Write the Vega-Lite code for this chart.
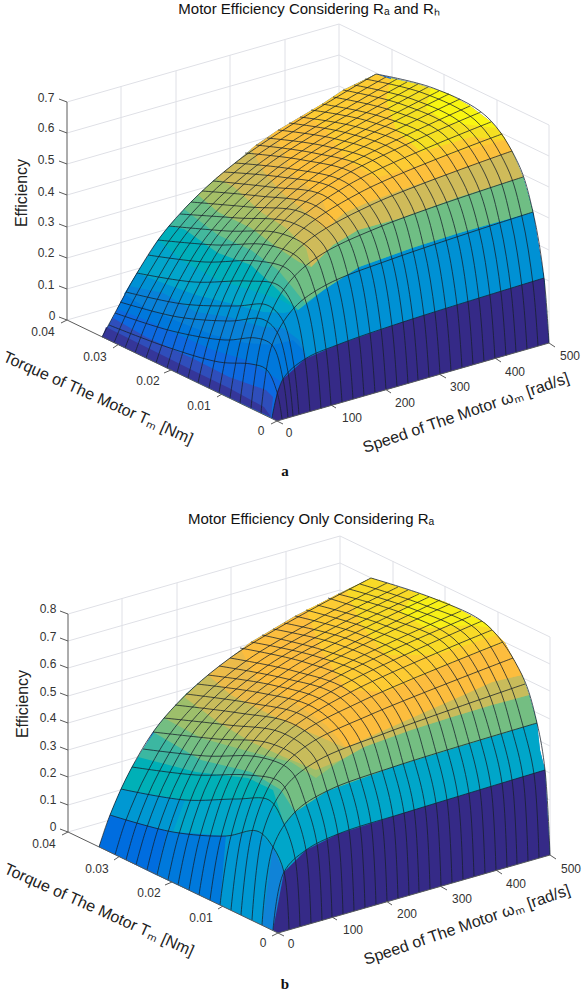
{"$schema":"https://vega.github.io/schema/vega-lite/v6.json","padding":{"left":0,"top":2,"right":0,"bottom":0},"spacing":13,"background":"white","resolve":{"scale":{"color":"independent"}},"config":{"view":{"stroke":null},"title":{"font":"Liberation Sans","fontSize":15,"fontWeight":"normal","color":"#111111","anchor":"middle","offset":2}},"vconcat":[
{"title":{"text":"Motor Efficiency Considering Rₐ and Rₕ","dx":17},"width":582,"height":480,"encoding":{"x":{"field":"u","type":"quantitative","scale":{"domain":[0,582],"nice":false,"zero":false},"axis":null},"y":{"field":"v","type":"quantitative","scale":{"domain":[499,19],"nice":false,"zero":false},"axis":null}},"layer":[
{"mark":{"type":"line","stroke":"#dfe0e6","strokeWidth":1,"clip":false},"encoding":{"detail":{"field":"g","type":"nominal"},"order":{"value":null}},"data":{"values":[
{"g":0,"u":66,"v":320},{"g":0,"u":338,"v":242},{"g":0,"u":548,"v":343},{"g":1,"u":66,"v":289},{"g":1,"u":338,"v":211},{"g":1,"u":548,"v":312},{"g":2,"u":66,"v":258},{"g":2,"u":338,"v":180},{"g":2,"u":548,"v":281},{"g":3,"u":66,"v":227},{"g":3,"u":338,"v":149},{"g":3,"u":548,"v":250},{"g":4,"u":66,"v":195},{"g":4,"u":338,"v":117},{"g":4,"u":548,"v":218},{"g":5,"u":66,"v":164},{"g":5,"u":338,"v":86},{"g":5,"u":548,"v":187},{"g":6,"u":66,"v":133},{"g":6,"u":338,"v":55},{"g":6,"u":548,"v":156},{"g":7,"u":66,"v":102},{"g":7,"u":338,"v":24},{"g":7,"u":548,"v":125},
{"g":10,"u":120,"v":304},{"g":10,"u":120,"v":86},{"g":11,"u":175,"v":289},{"g":11,"u":175,"v":71},{"g":12,"u":229,"v":273},{"g":12,"u":229,"v":55},{"g":13,"u":284,"v":258},{"g":13,"u":284,"v":40},{"g":14,"u":338,"v":242},{"g":14,"u":338,"v":24},{"g":15,"u":391,"v":267},{"g":15,"u":391,"v":49},{"g":16,"u":443,"v":292},{"g":16,"u":443,"v":74},{"g":17,"u":496,"v":318},{"g":17,"u":496,"v":100},{"g":18,"u":548,"v":343},{"g":18,"u":548,"v":125}]}},
{"mark":{"type":"line","filled":true,"strokeWidth":0,"clip":false},"encoding":{"detail":{"field":"g","type":"nominal"},"order":{"value":null},"color":{"field":"e","type":"quantitative","legend":null,"scale":{"domain":[0,0.059,0.118,0.177,0.236,0.295,0.354,0.413,0.472,0.531,0.59],"range":["#352a87","#0f68e0","#1484d6","#0ba4cc","#2eb5a8","#85bf7a","#d5ba5a","#fbbb40","#fdcc32","#f5e022","#f9fb0e"]}}},"data":{"values":[
{"g":0,"e":0.06,"u":276,"v":421},{"g":0,"e":0.06,"u":548,"v":343},{"g":0,"e":0.06,"u":543,"v":278},{"g":0,"e":0.06,"u":532,"v":212},{"g":0,"e":0.06,"u":522,"v":177},{"g":0,"e":0.06,"u":511,"v":151},{"g":0,"e":0.06,"u":501,"v":134},{"g":0,"e":0.06,"u":490,"v":122},{"g":0,"e":0.06,"u":469,"v":106},{"g":0,"e":0.06,"u":448,"v":94},{"g":0,"e":0.06,"u":417,"v":84},{"g":0,"e":0.06,"u":375,"v":74},{"g":0,"e":0.06,"u":342,"v":90},{"g":0,"e":0.06,"u":321,"v":104},{"g":0,"e":0.06,"u":299,"v":117},{"g":0,"e":0.06,"u":277,"v":130},{"g":0,"e":0.06,"u":255,"v":145},{"g":0,"e":0.06,"u":234,"v":163},{"g":0,"e":0.06,"u":212,"v":181},{"g":0,"e":0.06,"u":190,"v":202},{"g":0,"e":0.06,"u":168,"v":226},{"g":0,"e":0.06,"u":157,"v":240},{"g":0,"e":0.06,"u":136,"v":273},{"g":0,"e":0.06,"u":125,"v":292},{"g":0,"e":0.06,"u":114,"v":313},{"g":0,"e":0.06,"u":101,"v":337},
{"g":1,"e":0.09,"u":116,"v":309},{"g":1,"e":0.09,"u":145,"v":320},{"g":1,"e":0.09,"u":178,"v":335},{"g":1,"e":0.09,"u":212,"v":350},{"g":1,"e":0.09,"u":245,"v":360},{"g":1,"e":0.09,"u":270,"v":375},{"g":1,"e":0.09,"u":285,"v":385},{"g":1,"e":0.09,"u":544,"v":290},{"g":1,"e":0.09,"u":543,"v":278},{"g":1,"e":0.09,"u":532,"v":212},{"g":1,"e":0.09,"u":136,"v":273},{"g":1,"e":0.09,"u":125,"v":292},
{"g":2,"e":0.11,"u":123,"v":294},{"g":2,"e":0.11,"u":145,"v":308},{"g":2,"e":0.11,"u":178,"v":322},{"g":2,"e":0.11,"u":212,"v":335},{"g":2,"e":0.11,"u":245,"v":343},{"g":2,"e":0.11,"u":272,"v":345},{"g":2,"e":0.11,"u":292,"v":340},{"g":2,"e":0.11,"u":302,"v":350},{"g":2,"e":0.11,"u":305,"v":362},{"g":2,"e":0.11,"u":544,"v":288},{"g":2,"e":0.11,"u":543,"v":278},{"g":2,"e":0.11,"u":532,"v":212},{"g":2,"e":0.11,"u":157,"v":240},{"g":2,"e":0.11,"u":136,"v":273},
{"g":3,"e":0.14,"u":128,"v":286},{"g":3,"e":0.14,"u":162,"v":293},{"g":3,"e":0.14,"u":195,"v":312},{"g":3,"e":0.14,"u":228,"v":317},{"g":3,"e":0.14,"u":262,"v":327},{"g":3,"e":0.14,"u":282,"v":328},{"g":3,"e":0.14,"u":298,"v":340},{"g":3,"e":0.14,"u":310,"v":365},{"g":3,"e":0.14,"u":544,"v":286},{"g":3,"e":0.14,"u":543,"v":278},{"g":3,"e":0.14,"u":532,"v":212},{"g":3,"e":0.14,"u":168,"v":226},{"g":3,"e":0.14,"u":136,"v":273},
{"g":4,"e":0.18,"u":136,"v":273},{"g":4,"e":0.18,"u":162,"v":283},{"g":4,"e":0.18,"u":195,"v":295},{"g":4,"e":0.18,"u":228,"v":303},{"g":4,"e":0.18,"u":262,"v":312},{"g":4,"e":0.18,"u":283,"v":313},{"g":4,"e":0.18,"u":297,"v":310},{"g":4,"e":0.18,"u":324,"v":289},{"g":4,"e":0.18,"u":358,"v":267},{"g":4,"e":0.18,"u":411,"v":248},{"g":4,"e":0.18,"u":458,"v":233},{"g":4,"e":0.18,"u":532,"v":212},{"g":4,"e":0.18,"u":522,"v":177},{"g":4,"e":0.18,"u":190,"v":202},{"g":4,"e":0.18,"u":157,"v":240},
{"g":5,"e":0.21,"u":157,"v":240},{"g":5,"e":0.21,"u":183,"v":262},{"g":5,"e":0.21,"u":217,"v":280},{"g":5,"e":0.21,"u":250,"v":290},{"g":5,"e":0.21,"u":280,"v":300},{"g":5,"e":0.21,"u":297,"v":310},{"g":5,"e":0.21,"u":324,"v":289},{"g":5,"e":0.21,"u":358,"v":267},{"g":5,"e":0.21,"u":411,"v":248},{"g":5,"e":0.21,"u":458,"v":233},{"g":5,"e":0.21,"u":532,"v":212},{"g":5,"e":0.21,"u":522,"v":177},{"g":5,"e":0.21,"u":190,"v":202},{"g":5,"e":0.21,"u":168,"v":226},
{"g":6,"e":0.25,"u":168,"v":226},{"g":6,"e":0.25,"u":183,"v":229},{"g":6,"e":0.25,"u":217,"v":253},{"g":6,"e":0.25,"u":250,"v":265},{"g":6,"e":0.25,"u":277,"v":290},{"g":6,"e":0.25,"u":297,"v":310},{"g":6,"e":0.25,"u":324,"v":289},{"g":6,"e":0.25,"u":358,"v":267},{"g":6,"e":0.25,"u":411,"v":248},{"g":6,"e":0.25,"u":458,"v":233},{"g":6,"e":0.25,"u":532,"v":212},{"g":6,"e":0.25,"u":522,"v":177},{"g":6,"e":0.25,"u":212,"v":181},{"g":6,"e":0.25,"u":190,"v":202},
{"g":7,"e":0.28,"u":183,"v":209},{"g":7,"e":0.28,"u":217,"v":235},{"g":7,"e":0.28,"u":250,"v":250},{"g":7,"e":0.28,"u":277,"v":270},{"g":7,"e":0.28,"u":292,"v":288},{"g":7,"e":0.28,"u":304,"v":303},{"g":7,"e":0.28,"u":324,"v":289},{"g":7,"e":0.28,"u":358,"v":267},{"g":7,"e":0.28,"u":411,"v":248},{"g":7,"e":0.28,"u":458,"v":233},{"g":7,"e":0.28,"u":532,"v":212},{"g":7,"e":0.28,"u":522,"v":177},{"g":7,"e":0.28,"u":511,"v":151},{"g":7,"e":0.28,"u":212,"v":181},{"g":7,"e":0.28,"u":190,"v":202},
{"g":8,"e":0.32,"u":197,"v":195},{"g":8,"e":0.32,"u":217,"v":212},{"g":8,"e":0.32,"u":250,"v":228},{"g":8,"e":0.32,"u":277,"v":248},{"g":8,"e":0.32,"u":298,"v":262},{"g":8,"e":0.32,"u":310,"v":267},{"g":8,"e":0.32,"u":332,"v":245},{"g":8,"e":0.32,"u":357,"v":230},{"g":8,"e":0.32,"u":400,"v":218},{"g":8,"e":0.32,"u":458,"v":197},{"g":8,"e":0.32,"u":522,"v":177},{"g":8,"e":0.32,"u":511,"v":151},{"g":8,"e":0.32,"u":234,"v":163},{"g":8,"e":0.32,"u":212,"v":181},
{"g":9,"e":0.35,"u":215,"v":178},{"g":9,"e":0.35,"u":233,"v":187},{"g":9,"e":0.35,"u":260,"v":212},{"g":9,"e":0.35,"u":285,"v":228},{"g":9,"e":0.35,"u":305,"v":248},{"g":9,"e":0.35,"u":310,"v":267},{"g":9,"e":0.35,"u":332,"v":245},{"g":9,"e":0.35,"u":357,"v":230},{"g":9,"e":0.35,"u":400,"v":218},{"g":9,"e":0.35,"u":458,"v":197},{"g":9,"e":0.35,"u":522,"v":177},{"g":9,"e":0.35,"u":511,"v":151},{"g":9,"e":0.35,"u":501,"v":134},{"g":9,"e":0.35,"u":255,"v":145},{"g":9,"e":0.35,"u":234,"v":163},
{"g":10,"e":0.39,"u":250,"v":149},{"g":10,"e":0.39,"u":263,"v":172},{"g":10,"e":0.39,"u":280,"v":192},{"g":10,"e":0.39,"u":305,"v":212},{"g":10,"e":0.39,"u":325,"v":230},{"g":10,"e":0.39,"u":343,"v":213},{"g":10,"e":0.39,"u":363,"v":204},{"g":10,"e":0.39,"u":400,"v":190},{"g":10,"e":0.39,"u":458,"v":170},{"g":10,"e":0.39,"u":511,"v":151},{"g":10,"e":0.39,"u":501,"v":134},{"g":10,"e":0.39,"u":277,"v":130},{"g":10,"e":0.39,"u":255,"v":145},
{"g":11,"e":0.43,"u":270,"v":135},{"g":11,"e":0.43,"u":282,"v":150},{"g":11,"e":0.43,"u":290,"v":173},{"g":11,"e":0.43,"u":320,"v":197},{"g":11,"e":0.43,"u":330,"v":223},{"g":11,"e":0.43,"u":343,"v":213},{"g":11,"e":0.43,"u":363,"v":204},{"g":11,"e":0.43,"u":400,"v":190},{"g":11,"e":0.43,"u":458,"v":170},{"g":11,"e":0.43,"u":511,"v":151},{"g":11,"e":0.43,"u":501,"v":134},{"g":11,"e":0.43,"u":490,"v":122},{"g":11,"e":0.43,"u":321,"v":104},{"g":11,"e":0.43,"u":299,"v":117},{"g":11,"e":0.43,"u":277,"v":130},
{"g":12,"e":0.47,"u":305,"v":114},{"g":12,"e":0.47,"u":325,"v":130},{"g":12,"e":0.47,"u":345,"v":160},{"g":12,"e":0.47,"u":375,"v":178},{"g":12,"e":0.47,"u":420,"v":165},{"g":12,"e":0.47,"u":458,"v":152},{"g":12,"e":0.47,"u":505,"v":140},{"g":12,"e":0.47,"u":501,"v":134},{"g":12,"e":0.47,"u":490,"v":122},{"g":12,"e":0.47,"u":469,"v":106},{"g":12,"e":0.47,"u":375,"v":74},{"g":12,"e":0.47,"u":342,"v":90},{"g":12,"e":0.47,"u":321,"v":104},
{"g":13,"e":0.53,"u":390,"v":78},{"g":13,"e":0.53,"u":385,"v":100},{"g":13,"e":0.53,"u":395,"v":130},{"g":13,"e":0.53,"u":420,"v":152},{"g":13,"e":0.53,"u":470,"v":137},{"g":13,"e":0.53,"u":505,"v":140},{"g":13,"e":0.53,"u":501,"v":134},{"g":13,"e":0.53,"u":490,"v":122},{"g":13,"e":0.53,"u":469,"v":106},{"g":13,"e":0.53,"u":448,"v":94},{"g":13,"e":0.53,"u":417,"v":84},
{"g":14,"e":0.58,"u":430,"v":88},{"g":14,"e":0.58,"u":425,"v":108},{"g":14,"e":0.58,"u":445,"v":122},{"g":14,"e":0.58,"u":496,"v":128},{"g":14,"e":0.58,"u":490,"v":122},{"g":14,"e":0.58,"u":469,"v":106},{"g":14,"e":0.58,"u":448,"v":94},
{"g":15,"e":0.035,"u":112,"v":318},{"g":15,"e":0.035,"u":145,"v":337},{"g":15,"e":0.035,"u":195,"v":360},{"g":15,"e":0.035,"u":228,"v":377},{"g":15,"e":0.035,"u":265,"v":390},{"g":15,"e":0.035,"u":272,"v":397},{"g":15,"e":0.035,"u":270,"v":417},{"g":15,"e":0.035,"u":101,"v":337},
{"g":16,"e":0.012,"u":105,"v":327},{"g":16,"e":0.012,"u":145,"v":347},{"g":16,"e":0.012,"u":195,"v":372},{"g":16,"e":0.012,"u":228,"v":388},{"g":16,"e":0.012,"u":263,"v":407},{"g":16,"e":0.012,"u":270,"v":417},{"g":16,"e":0.012,"u":101,"v":337},
{"g":17,"e":0,"u":276,"v":421},{"g":17,"e":0,"u":548,"v":343},{"g":17,"e":0,"u":543,"v":278},{"g":17,"e":0,"u":402,"v":322},{"g":17,"e":0,"u":336,"v":345},{"g":17,"e":0,"u":304,"v":359},{"g":17,"e":0,"u":282,"v":379},{"g":17,"e":0,"u":276,"v":392},{"g":17,"e":0,"u":271,"v":418}]}},
{"mark":{"type":"line","interpolate":"catmull-rom","stroke":"#16202a","strokeWidth":0.9,"strokeOpacity":0.85,"clip":false},"encoding":{"detail":{"field":"g","type":"nominal"},"order":{"value":null}},"data":{"values":[
{"g":1,"u":271,"v":418},{"g":1,"u":282,"v":379},{"g":1,"u":304,"v":359},{"g":1,"u":336,"v":345},{"g":1,"u":402,"v":322},{"g":1,"u":543,"v":278},
{"g":2,"u":260,"v":413},{"g":2,"u":271,"v":345},{"g":2,"u":293,"v":308},{"g":2,"u":325,"v":285},{"g":2,"u":391,"v":259},{"g":2,"u":532,"v":212},
{"g":3,"u":250,"v":408},{"g":3,"u":261,"v":338},{"g":3,"u":283,"v":289},{"g":3,"u":315,"v":258},{"g":3,"u":381,"v":226},{"g":3,"u":522,"v":177},
{"g":4,"u":239,"v":403},{"g":4,"u":250,"v":337},{"g":4,"u":272,"v":281},{"g":4,"u":304,"v":243},{"g":4,"u":370,"v":205},{"g":4,"u":511,"v":151},
{"g":5,"u":229,"v":398},{"g":5,"u":240,"v":339},{"g":5,"u":262,"v":280},{"g":5,"u":294,"v":236},{"g":5,"u":360,"v":192},{"g":5,"u":501,"v":134},
{"g":6,"u":218,"v":393},{"g":6,"u":229,"v":339},{"g":6,"u":251,"v":280},{"g":6,"u":283,"v":233},{"g":6,"u":349,"v":184},{"g":6,"u":490,"v":122},
{"g":7,"u":208,"v":388},{"g":7,"u":219,"v":339},{"g":7,"u":241,"v":281},{"g":7,"u":273,"v":231},{"g":7,"u":339,"v":178},{"g":7,"u":480,"v":112},
{"g":8,"u":197,"v":383},{"g":8,"u":208,"v":339},{"g":8,"u":230,"v":282},{"g":8,"u":262,"v":232},{"g":8,"u":328,"v":176},{"g":8,"u":469,"v":106},
{"g":9,"u":187,"v":378},{"g":9,"u":198,"v":337},{"g":9,"u":220,"v":283},{"g":9,"u":252,"v":232},{"g":9,"u":318,"v":173},{"g":9,"u":459,"v":99},
{"g":10,"u":176,"v":373},{"g":10,"u":187,"v":336},{"g":10,"u":209,"v":283},{"g":10,"u":241,"v":232},{"g":10,"u":307,"v":171},{"g":10,"u":448,"v":94},
{"g":11,"u":166,"v":368},{"g":11,"u":177,"v":333},{"g":11,"u":199,"v":283},{"g":11,"u":231,"v":232},{"g":11,"u":297,"v":170},{"g":11,"u":438,"v":91},
{"g":12,"u":155,"v":363},{"g":12,"u":166,"v":331},{"g":12,"u":188,"v":282},{"g":12,"u":220,"v":231},{"g":12,"u":286,"v":169},{"g":12,"u":427,"v":87},
{"g":13,"u":145,"v":358},{"g":13,"u":156,"v":328},{"g":13,"u":178,"v":281},{"g":13,"u":210,"v":231},{"g":13,"u":276,"v":168},{"g":13,"u":417,"v":84},
{"g":14,"u":134,"v":353},{"g":14,"u":145,"v":324},{"g":14,"u":167,"v":279},{"g":14,"u":199,"v":230},{"g":14,"u":265,"v":166},{"g":14,"u":406,"v":82},
{"g":15,"u":124,"v":348},{"g":15,"u":135,"v":321},{"g":15,"u":157,"v":278},{"g":15,"u":189,"v":229},{"g":15,"u":255,"v":166},{"g":15,"u":396,"v":79},
{"g":16,"u":113,"v":343},{"g":16,"u":124,"v":317},{"g":16,"u":146,"v":276},{"g":16,"u":178,"v":228},{"g":16,"u":244,"v":164},{"g":16,"u":385,"v":77},
{"g":17,"u":101,"v":337},{"g":17,"u":114,"v":313},{"g":17,"u":136,"v":273},{"g":17,"u":168,"v":226},{"g":17,"u":234,"v":163},{"g":17,"u":375,"v":74},
{"g":21,"u":281,"v":419},{"g":21,"u":276,"v":392},{"g":21,"u":265,"v":369},{"g":21,"u":250,"v":364},{"g":21,"u":218,"v":362},{"g":21,"u":166,"v":347},{"g":21,"u":108,"v":325},
{"g":22,"u":287,"v":418},{"g":22,"u":282,"v":379},{"g":22,"u":271,"v":345},{"g":22,"u":255,"v":338},{"g":22,"u":224,"v":340},{"g":22,"u":171,"v":331},{"g":22,"u":114,"v":313},
{"g":23,"u":292,"v":416},{"g":23,"u":287,"v":372},{"g":23,"u":276,"v":332},{"g":23,"u":261,"v":319},{"g":23,"u":229,"v":321},{"g":23,"u":177,"v":317},{"g":23,"u":119,"v":302},
{"g":24,"u":298,"v":415},{"g":24,"u":293,"v":366},{"g":24,"u":282,"v":321},{"g":24,"u":266,"v":305},{"g":24,"u":235,"v":306},{"g":24,"u":182,"v":304},{"g":24,"u":125,"v":292},
{"g":25,"u":309,"v":412},{"g":25,"u":304,"v":359},{"g":25,"u":293,"v":308},{"g":25,"u":277,"v":285},{"g":25,"u":246,"v":281},{"g":25,"u":193,"v":282},{"g":25,"u":136,"v":273},
{"g":26,"u":320,"v":409},{"g":26,"u":315,"v":353},{"g":26,"u":304,"v":299},{"g":26,"u":288,"v":270},{"g":26,"u":257,"v":261},{"g":26,"u":204,"v":262},{"g":26,"u":147,"v":255},
{"g":27,"u":330,"v":405},{"g":27,"u":325,"v":349},{"g":27,"u":314,"v":291},{"g":27,"u":299,"v":259},{"g":27,"u":267,"v":245},{"g":27,"u":215,"v":245},{"g":27,"u":157,"v":240},
{"g":28,"u":341,"v":402},{"g":28,"u":336,"v":345},{"g":28,"u":325,"v":285},{"g":28,"u":310,"v":250},{"g":28,"u":278,"v":233},{"g":28,"u":226,"v":231},{"g":28,"u":168,"v":226},
{"g":29,"u":352,"v":399},{"g":29,"u":347,"v":341},{"g":29,"u":336,"v":281},{"g":29,"u":321,"v":243},{"g":29,"u":289,"v":222},{"g":29,"u":237,"v":218},{"g":29,"u":179,"v":214},
{"g":30,"u":363,"v":396},{"g":30,"u":358,"v":337},{"g":30,"u":347,"v":275},{"g":30,"u":332,"v":236},{"g":30,"u":300,"v":212},{"g":30,"u":248,"v":207},{"g":30,"u":190,"v":202},
{"g":31,"u":374,"v":393},{"g":31,"u":369,"v":333},{"g":31,"u":358,"v":270},{"g":31,"u":342,"v":230},{"g":31,"u":311,"v":204},{"g":31,"u":258,"v":196},{"g":31,"u":201,"v":191},
{"g":32,"u":385,"v":390},{"g":32,"u":380,"v":329},{"g":32,"u":369,"v":266},{"g":32,"u":353,"v":225},{"g":32,"u":322,"v":195},{"g":32,"u":269,"v":187},{"g":32,"u":212,"v":181},
{"g":33,"u":396,"v":387},{"g":33,"u":391,"v":326},{"g":33,"u":380,"v":262},{"g":33,"u":364,"v":220},{"g":33,"u":333,"v":188},{"g":33,"u":280,"v":177},{"g":33,"u":223,"v":172},
{"g":34,"u":407,"v":384},{"g":34,"u":402,"v":322},{"g":34,"u":391,"v":259},{"g":34,"u":375,"v":215},{"g":34,"u":344,"v":182},{"g":34,"u":291,"v":169},{"g":34,"u":234,"v":163},
{"g":35,"u":417,"v":380},{"g":35,"u":412,"v":319},{"g":35,"u":401,"v":255},{"g":35,"u":386,"v":210},{"g":35,"u":354,"v":174},{"g":35,"u":302,"v":160},{"g":35,"u":244,"v":153},
{"g":36,"u":428,"v":377},{"g":36,"u":423,"v":316},{"g":36,"u":412,"v":251},{"g":36,"u":397,"v":205},{"g":36,"u":365,"v":168},{"g":36,"u":313,"v":153},{"g":36,"u":255,"v":145},
{"g":37,"u":439,"v":374},{"g":37,"u":434,"v":313},{"g":37,"u":423,"v":248},{"g":37,"u":408,"v":201},{"g":37,"u":376,"v":163},{"g":37,"u":324,"v":146},{"g":37,"u":266,"v":138},
{"g":38,"u":450,"v":371},{"g":38,"u":445,"v":310},{"g":38,"u":434,"v":244},{"g":38,"u":419,"v":197},{"g":38,"u":387,"v":158},{"g":38,"u":335,"v":139},{"g":38,"u":277,"v":130},
{"g":39,"u":461,"v":368},{"g":39,"u":456,"v":305},{"g":39,"u":445,"v":240},{"g":39,"u":430,"v":194},{"g":39,"u":398,"v":153},{"g":39,"u":346,"v":133},{"g":39,"u":288,"v":123},
{"g":40,"u":472,"v":365},{"g":40,"u":467,"v":302},{"g":40,"u":456,"v":236},{"g":40,"u":440,"v":190},{"g":40,"u":409,"v":148},{"g":40,"u":356,"v":127},{"g":40,"u":299,"v":117},
{"g":41,"u":483,"v":362},{"g":41,"u":478,"v":299},{"g":41,"u":467,"v":233},{"g":41,"u":451,"v":186},{"g":41,"u":420,"v":144},{"g":41,"u":367,"v":121},{"g":41,"u":310,"v":110},
{"g":42,"u":494,"v":359},{"g":42,"u":489,"v":296},{"g":42,"u":478,"v":230},{"g":42,"u":462,"v":182},{"g":42,"u":431,"v":139},{"g":42,"u":378,"v":116},{"g":42,"u":321,"v":104},
{"g":43,"u":505,"v":356},{"g":43,"u":500,"v":293},{"g":43,"u":489,"v":227},{"g":43,"u":473,"v":178},{"g":43,"u":442,"v":134},{"g":43,"u":389,"v":110},{"g":43,"u":332,"v":97},
{"g":44,"u":515,"v":352},{"g":44,"u":510,"v":290},{"g":44,"u":499,"v":224},{"g":44,"u":484,"v":174},{"g":44,"u":452,"v":129},{"g":44,"u":400,"v":104},{"g":44,"u":342,"v":90},
{"g":45,"u":526,"v":349},{"g":45,"u":521,"v":287},{"g":45,"u":510,"v":220},{"g":45,"u":495,"v":170},{"g":45,"u":463,"v":125},{"g":45,"u":411,"v":99},{"g":45,"u":353,"v":85},
{"g":46,"u":537,"v":346},{"g":46,"u":532,"v":284},{"g":46,"u":521,"v":217},{"g":46,"u":506,"v":167},{"g":46,"u":474,"v":120},{"g":46,"u":422,"v":93},{"g":46,"u":364,"v":79},
{"g":47,"u":548,"v":343},{"g":47,"u":543,"v":278},{"g":47,"u":532,"v":212},{"g":47,"u":517,"v":163},{"g":47,"u":485,"v":116},{"g":47,"u":432,"v":88},{"g":47,"u":375,"v":74}]}},
{"mark":{"type":"line","stroke":"#5a5a5a","strokeWidth":1,"clip":false},"encoding":{"detail":{"field":"g","type":"nominal"},"order":{"value":null}},"data":{"values":[
{"g":0,"u":66,"v":102},{"g":0,"u":66,"v":320},{"g":0,"u":276,"v":421},{"g":0,"u":548,"v":343},
{"g":1,"u":58,"v":99},{"g":1,"u":66,"v":102},{"g":2,"u":58,"v":130},{"g":2,"u":66,"v":133},{"g":3,"u":58,"v":161},{"g":3,"u":66,"v":164},{"g":4,"u":58,"v":192},{"g":4,"u":66,"v":195},{"g":5,"u":58,"v":224},{"g":5,"u":66,"v":227},{"g":6,"u":58,"v":255},{"g":6,"u":66,"v":258},{"g":7,"u":58,"v":286},{"g":7,"u":66,"v":289},{"g":8,"u":58,"v":317},{"g":8,"u":66,"v":320},
{"g":9,"u":66,"v":320},{"g":9,"u":60,"v":323},{"g":10,"u":118,"v":344},{"g":10,"u":112,"v":348},{"g":11,"u":170,"v":370},{"g":11,"u":163,"v":373},{"g":12,"u":221,"v":394},{"g":12,"u":216,"v":397},{"g":13,"u":276,"v":421},{"g":13,"u":270,"v":424},
{"g":14,"u":276,"v":421},{"g":14,"u":282,"v":424},{"g":15,"u":330,"v":405},{"g":15,"u":335,"v":408},{"g":16,"u":384,"v":389},{"g":16,"u":390,"v":393},{"g":17,"u":438,"v":374},{"g":17,"u":445,"v":378},{"g":18,"u":494,"v":358},{"g":18,"u":500,"v":362},{"g":19,"u":548,"v":343},{"g":19,"u":554,"v":347}]}},
{"mark":{"type":"text","font":"Liberation Sans","fontSize":12,"fill":"#333333","align":"center","baseline":"middle","clip":false},"encoding":{"text":{"field":"t"}},"data":{"values":[
{"t":"0.7","u":45,"v":98},{"t":"0.6","u":45,"v":128},{"t":"0.5","u":45,"v":160},{"t":"0.4","u":45,"v":192},{"t":"0.3","u":45,"v":222},{"t":"0.2","u":45,"v":253},{"t":"0.1","u":45,"v":285},{"t":"0","u":51,"v":316},
{"t":"0.04","u":42,"v":332},{"t":"0.03","u":94,"v":357},{"t":"0.02","u":147,"v":381},{"t":"0.01","u":198,"v":406},{"t":"0","u":260,"v":431},
{"t":"0","u":288,"v":433},{"t":"100","u":351,"v":418},{"t":"200","u":404,"v":403},{"t":"300","u":459,"v":387},{"t":"400","u":514,"v":372},{"t":"500","u":569,"v":356}]}},
{"mark":{"type":"text","font":"Liberation Sans","fontSize":16,"fill":"#222222","angle":270,"align":"center","baseline":"middle","clip":false},"encoding":{"text":{"field":"t"}},"data":{"values":[{"t":"Efficiency","u":21,"v":193}]}},
{"mark":{"type":"text","font":"Liberation Sans","fontSize":16,"fill":"#222222","angle":24,"align":"center","baseline":"middle","clip":false},"encoding":{"text":{"field":"t"}},"data":{"values":[{"t":"Torque of The Motor Tₘ [Nm]","u":97,"v":398}]}},
{"mark":{"type":"text","font":"Liberation Sans","fontSize":16,"fill":"#222222","angle":341,"align":"center","baseline":"middle","clip":false},"encoding":{"text":{"field":"t"}},"data":{"values":[{"t":"Speed of The Motor ωₘ [rad/s]","u":465,"v":413}]}},
{"mark":{"type":"text","font":"Liberation Serif","fontSize":15,"fontWeight":"bold","fill":"#111111","align":"center","baseline":"middle","clip":false},"encoding":{"text":{"field":"t"}},"data":{"values":[{"t":"a","u":284,"v":471}]}}]},
{"title":{"text":"Motor Efficiency Only Considering Rₐ","dx":19},"width":582,"height":462,"encoding":{"x":{"field":"u","type":"quantitative","scale":{"domain":[0,582],"nice":false,"zero":false},"axis":null},"y":{"field":"v","type":"quantitative","scale":{"domain":[991,529],"nice":false,"zero":false},"axis":null}},"layer":[
{"mark":{"type":"line","stroke":"#dfe0e6","strokeWidth":1,"clip":false},"encoding":{"detail":{"field":"g","type":"nominal"},"order":{"value":null}},"data":{"values":[
{"g":0,"u":67,"v":832},{"g":0,"u":339,"v":754},{"g":0,"u":549,"v":855},{"g":1,"u":67,"v":805},{"g":1,"u":339,"v":727},{"g":1,"u":549,"v":828},{"g":2,"u":67,"v":777},{"g":2,"u":339,"v":699},{"g":2,"u":549,"v":800},{"g":3,"u":67,"v":750},{"g":3,"u":339,"v":672},{"g":3,"u":549,"v":773},{"g":4,"u":67,"v":723},{"g":4,"u":339,"v":645},{"g":4,"u":549,"v":746},{"g":5,"u":67,"v":696},{"g":5,"u":339,"v":618},{"g":5,"u":549,"v":719},{"g":6,"u":67,"v":668},{"g":6,"u":339,"v":590},{"g":6,"u":549,"v":691},{"g":7,"u":67,"v":641},{"g":7,"u":339,"v":563},{"g":7,"u":549,"v":664},{"g":8,"u":67,"v":614},{"g":8,"u":339,"v":536},{"g":8,"u":549,"v":637},
{"g":10,"u":121,"v":816},{"g":10,"u":121,"v":598},{"g":11,"u":176,"v":801},{"g":11,"u":176,"v":583},{"g":12,"u":230,"v":785},{"g":12,"u":230,"v":567},{"g":13,"u":285,"v":770},{"g":13,"u":285,"v":552},{"g":14,"u":339,"v":754},{"g":14,"u":339,"v":536},{"g":15,"u":392,"v":779},{"g":15,"u":392,"v":561},{"g":16,"u":444,"v":804},{"g":16,"u":444,"v":586},{"g":17,"u":497,"v":830},{"g":17,"u":497,"v":612},{"g":18,"u":549,"v":855},{"g":18,"u":549,"v":637}]}},
{"mark":{"type":"line","filled":true,"strokeWidth":0,"clip":false},"encoding":{"detail":{"field":"g","type":"nominal"},"order":{"value":null},"color":{"field":"e","type":"quantitative","legend":null,"scale":{"domain":[0,0.077,0.154,0.231,0.308,0.385,0.462,0.539,0.616,0.693,0.77],"range":["#352a87","#0f68e0","#1484d6","#0ba4cc","#2eb5a8","#85bf7a","#d5ba5a","#fbbb40","#fdcc32","#f5e022","#f9fb0e"]}}},"data":{"values":[
{"g":0,"e":0.15,"u":277,"v":933},{"g":0,"e":0.15,"u":549,"v":855},{"g":0,"e":0.15,"u":544,"v":770},{"g":0,"e":0.15,"u":539,"v":750},{"g":0,"e":0.15,"u":536,"v":723},{"g":0,"e":0.15,"u":528,"v":695},{"g":0,"e":0.15,"u":521,"v":675},{"g":0,"e":0.15,"u":504,"v":643},{"g":0,"e":0.15,"u":484,"v":623},{"g":0,"e":0.15,"u":444,"v":602},{"g":0,"e":0.15,"u":370,"v":578},{"g":0,"e":0.15,"u":337,"v":594},{"g":0,"e":0.15,"u":316,"v":605},{"g":0,"e":0.15,"u":294,"v":616},{"g":0,"e":0.15,"u":272,"v":629},{"g":0,"e":0.15,"u":250,"v":642},{"g":0,"e":0.15,"u":229,"v":658},{"g":0,"e":0.15,"u":207,"v":675},{"g":0,"e":0.15,"u":185,"v":694},{"g":0,"e":0.15,"u":163,"v":718},{"g":0,"e":0.15,"u":152,"v":732},{"g":0,"e":0.15,"u":142,"v":749},{"g":0,"e":0.15,"u":131,"v":767},{"g":0,"e":0.15,"u":120,"v":789},{"g":0,"e":0.15,"u":109,"v":815},{"g":0,"e":0.15,"u":98,"v":847},
{"g":1,"e":0.09,"u":98,"v":847},{"g":1,"e":0.09,"u":109,"v":815},{"g":1,"e":0.09,"u":166,"v":831},{"g":1,"e":0.09,"u":155,"v":875},
{"g":2,"e":0.12,"u":155,"v":875},{"g":2,"e":0.12,"u":166,"v":831},{"g":2,"e":0.12,"u":225,"v":836},{"g":2,"e":0.12,"u":219,"v":905},
{"g":3,"e":0.2,"u":219,"v":905},{"g":3,"e":0.2,"u":225,"v":836},{"g":3,"e":0.2,"u":256,"v":831},{"g":3,"e":0.2,"u":272,"v":847},{"g":3,"e":0.2,"u":261,"v":925},
{"g":4,"e":0.24,"u":109,"v":815},{"g":4,"e":0.24,"u":172,"v":832},{"g":4,"e":0.24,"u":225,"v":836},{"g":4,"e":0.24,"u":256,"v":831},{"g":4,"e":0.24,"u":272,"v":847},{"g":4,"e":0.24,"u":283,"v":872},{"g":4,"e":0.24,"u":305,"v":850},{"g":4,"e":0.24,"u":337,"v":834},{"g":4,"e":0.24,"u":403,"v":813},{"g":4,"e":0.24,"u":544,"v":770},{"g":4,"e":0.24,"u":539,"v":750},{"g":4,"e":0.24,"u":536,"v":723},{"g":4,"e":0.24,"u":131,"v":767},{"g":4,"e":0.24,"u":120,"v":789},
{"g":5,"e":0.2,"u":109,"v":815},{"g":5,"e":0.2,"u":172,"v":832},{"g":5,"e":0.2,"u":184,"v":800},{"g":5,"e":0.2,"u":120,"v":789},
{"g":6,"e":0.28,"u":120,"v":789},{"g":6,"e":0.28,"u":184,"v":800},{"g":6,"e":0.28,"u":236,"v":799},{"g":6,"e":0.28,"u":268,"v":800},{"g":6,"e":0.28,"u":283,"v":824},{"g":6,"e":0.28,"u":294,"v":812},{"g":6,"e":0.28,"u":326,"v":791},{"g":6,"e":0.28,"u":392,"v":767},{"g":6,"e":0.28,"u":536,"v":723},{"g":6,"e":0.28,"u":528,"v":695},{"g":6,"e":0.28,"u":142,"v":749},{"g":6,"e":0.28,"u":131,"v":767},
{"g":7,"e":0.32,"u":137,"v":757},{"g":7,"e":0.32,"u":195,"v":772},{"g":7,"e":0.32,"u":247,"v":778},{"g":7,"e":0.32,"u":272,"v":790},{"g":7,"e":0.32,"u":283,"v":824},{"g":7,"e":0.32,"u":294,"v":812},{"g":7,"e":0.32,"u":326,"v":791},{"g":7,"e":0.32,"u":392,"v":767},{"g":7,"e":0.32,"u":536,"v":723},{"g":7,"e":0.32,"u":528,"v":695},{"g":7,"e":0.32,"u":163,"v":718},{"g":7,"e":0.32,"u":142,"v":749},
{"g":8,"e":0.37,"u":152,"v":732},{"g":8,"e":0.37,"u":200,"v":760},{"g":8,"e":0.37,"u":250,"v":772},{"g":8,"e":0.37,"u":280,"v":790},{"g":8,"e":0.37,"u":294,"v":812},{"g":8,"e":0.37,"u":326,"v":791},{"g":8,"e":0.37,"u":392,"v":767},{"g":8,"e":0.37,"u":536,"v":723},{"g":8,"e":0.37,"u":528,"v":695},{"g":8,"e":0.37,"u":521,"v":675},{"g":8,"e":0.37,"u":185,"v":694},{"g":8,"e":0.37,"u":163,"v":718},
{"g":9,"e":0.41,"u":163,"v":718},{"g":9,"e":0.41,"u":200,"v":738},{"g":9,"e":0.41,"u":250,"v":752},{"g":9,"e":0.41,"u":290,"v":762},{"g":9,"e":0.41,"u":315,"v":778},{"g":9,"e":0.41,"u":340,"v":760},{"g":9,"e":0.41,"u":363,"v":747},{"g":9,"e":0.41,"u":410,"v":730},{"g":9,"e":0.41,"u":451,"v":717},{"g":9,"e":0.41,"u":491,"v":705},{"g":9,"e":0.41,"u":528,"v":695},{"g":9,"e":0.41,"u":521,"v":675},{"g":9,"e":0.41,"u":207,"v":675},{"g":9,"e":0.41,"u":185,"v":694},
{"g":10,"e":0.45,"u":183,"v":697},{"g":10,"e":0.45,"u":217,"v":722},{"g":10,"e":0.45,"u":250,"v":742},{"g":10,"e":0.45,"u":283,"v":757},{"g":10,"e":0.45,"u":315,"v":770},{"g":10,"e":0.45,"u":340,"v":760},{"g":10,"e":0.45,"u":363,"v":747},{"g":10,"e":0.45,"u":410,"v":730},{"g":10,"e":0.45,"u":451,"v":717},{"g":10,"e":0.45,"u":491,"v":705},{"g":10,"e":0.45,"u":528,"v":695},{"g":10,"e":0.45,"u":521,"v":675},{"g":10,"e":0.45,"u":504,"v":643},{"g":10,"e":0.45,"u":229,"v":658},{"g":10,"e":0.45,"u":207,"v":675},
{"g":11,"e":0.51,"u":207,"v":675},{"g":11,"e":0.51,"u":230,"v":695},{"g":11,"e":0.51,"u":270,"v":715},{"g":11,"e":0.51,"u":310,"v":733},{"g":11,"e":0.51,"u":345,"v":748},{"g":11,"e":0.51,"u":388,"v":728},{"g":11,"e":0.51,"u":424,"v":712},{"g":11,"e":0.51,"u":458,"v":697},{"g":11,"e":0.51,"u":491,"v":682},{"g":11,"e":0.51,"u":521,"v":675},{"g":11,"e":0.51,"u":504,"v":643},{"g":11,"e":0.51,"u":484,"v":623},{"g":11,"e":0.51,"u":250,"v":642},{"g":11,"e":0.51,"u":229,"v":658},
{"g":12,"e":0.55,"u":240,"v":650},{"g":12,"e":0.55,"u":255,"v":678},{"g":12,"e":0.55,"u":290,"v":700},{"g":12,"e":0.55,"u":325,"v":725},{"g":12,"e":0.55,"u":345,"v":747},{"g":12,"e":0.55,"u":388,"v":728},{"g":12,"e":0.55,"u":424,"v":712},{"g":12,"e":0.55,"u":458,"v":697},{"g":12,"e":0.55,"u":491,"v":682},{"g":12,"e":0.55,"u":521,"v":675},{"g":12,"e":0.55,"u":504,"v":643},{"g":12,"e":0.55,"u":484,"v":623},{"g":12,"e":0.55,"u":444,"v":602},{"g":12,"e":0.55,"u":337,"v":594},{"g":12,"e":0.55,"u":316,"v":605},{"g":12,"e":0.55,"u":294,"v":616},{"g":12,"e":0.55,"u":272,"v":629},{"g":12,"e":0.55,"u":250,"v":642},
{"g":13,"e":0.61,"u":305,"v":610},{"g":13,"e":0.61,"u":320,"v":650},{"g":13,"e":0.61,"u":345,"v":690},{"g":13,"e":0.61,"u":385,"v":692},{"g":13,"e":0.61,"u":430,"v":672},{"g":13,"e":0.61,"u":470,"v":655},{"g":13,"e":0.61,"u":504,"v":643},{"g":13,"e":0.61,"u":484,"v":623},{"g":13,"e":0.61,"u":444,"v":602},{"g":13,"e":0.61,"u":370,"v":578},{"g":13,"e":0.61,"u":337,"v":594},{"g":13,"e":0.61,"u":316,"v":605},
{"g":14,"e":0.67,"u":345,"v":590},{"g":14,"e":0.67,"u":360,"v":625},{"g":14,"e":0.67,"u":385,"v":655},{"g":14,"e":0.67,"u":435,"v":655},{"g":14,"e":0.67,"u":496,"v":635},{"g":14,"e":0.67,"u":484,"v":623},{"g":14,"e":0.67,"u":444,"v":602},{"g":14,"e":0.67,"u":370,"v":578},
{"g":15,"e":0.74,"u":415,"v":593},{"g":15,"e":0.74,"u":400,"v":612},{"g":15,"e":0.74,"u":425,"v":628},{"g":15,"e":0.74,"u":470,"v":625},{"g":15,"e":0.74,"u":490,"v":628},{"g":15,"e":0.74,"u":484,"v":623},{"g":15,"e":0.74,"u":444,"v":602},
{"g":16,"e":0,"u":277,"v":933},{"g":16,"e":0,"u":549,"v":855},{"g":16,"e":0,"u":544,"v":770},{"g":16,"e":0,"u":403,"v":813},{"g":16,"e":0,"u":337,"v":834},{"g":16,"e":0,"u":305,"v":850},{"g":16,"e":0,"u":283,"v":872},{"g":16,"e":0,"u":272,"v":930}]}},
{"mark":{"type":"line","interpolate":"catmull-rom","stroke":"#16202a","strokeWidth":0.9,"strokeOpacity":0.85,"clip":false},"encoding":{"detail":{"field":"g","type":"nominal"},"order":{"value":null}},"data":{"values":[
{"g":1,"u":272,"v":930},{"g":1,"u":283,"v":872},{"g":1,"u":305,"v":850},{"g":1,"u":337,"v":834},{"g":1,"u":403,"v":813},{"g":1,"u":544,"v":770},
{"g":2,"u":261,"v":925},{"g":2,"u":272,"v":847},{"g":2,"u":294,"v":812},{"g":2,"u":326,"v":791},{"g":2,"u":392,"v":767},{"g":2,"u":536,"v":723},
{"g":3,"u":251,"v":920},{"g":3,"u":262,"v":832},{"g":3,"u":284,"v":787},{"g":3,"u":316,"v":761},{"g":3,"u":382,"v":734},{"g":3,"u":524,"v":684},
{"g":4,"u":240,"v":915},{"g":4,"u":251,"v":832},{"g":4,"u":273,"v":778},{"g":4,"u":305,"v":746},{"g":4,"u":371,"v":714},{"g":4,"u":512,"v":658},
{"g":5,"u":230,"v":910},{"g":5,"u":241,"v":833},{"g":5,"u":263,"v":775},{"g":5,"u":295,"v":737},{"g":5,"u":361,"v":701},{"g":5,"u":502,"v":642},
{"g":6,"u":219,"v":905},{"g":6,"u":230,"v":836},{"g":6,"u":252,"v":775},{"g":6,"u":284,"v":734},{"g":6,"u":350,"v":692},{"g":6,"u":491,"v":630},
{"g":7,"u":209,"v":900},{"g":7,"u":220,"v":837},{"g":7,"u":242,"v":775},{"g":7,"u":274,"v":730},{"g":7,"u":340,"v":686},{"g":7,"u":481,"v":621},
{"g":8,"u":198,"v":895},{"g":8,"u":209,"v":837},{"g":8,"u":231,"v":775},{"g":8,"u":263,"v":729},{"g":8,"u":329,"v":681},{"g":8,"u":470,"v":616},
{"g":9,"u":188,"v":890},{"g":9,"u":199,"v":836},{"g":9,"u":221,"v":776},{"g":9,"u":253,"v":728},{"g":9,"u":319,"v":678},{"g":9,"u":460,"v":611},
{"g":10,"u":177,"v":885},{"g":10,"u":188,"v":835},{"g":10,"u":210,"v":776},{"g":10,"u":242,"v":727},{"g":10,"u":308,"v":674},{"g":10,"u":449,"v":604},
{"g":11,"u":167,"v":880},{"g":11,"u":178,"v":834},{"g":11,"u":200,"v":776},{"g":11,"u":232,"v":726},{"g":11,"u":298,"v":673},{"g":11,"u":439,"v":600},
{"g":12,"u":156,"v":875},{"g":12,"u":167,"v":832},{"g":12,"u":189,"v":776},{"g":12,"u":221,"v":725},{"g":12,"u":287,"v":670},{"g":12,"u":428,"v":597},
{"g":13,"u":146,"v":870},{"g":13,"u":157,"v":829},{"g":13,"u":179,"v":775},{"g":13,"u":211,"v":724},{"g":13,"u":277,"v":667},{"g":13,"u":418,"v":594},
{"g":14,"u":135,"v":865},{"g":14,"u":146,"v":827},{"g":14,"u":168,"v":774},{"g":14,"u":200,"v":723},{"g":14,"u":266,"v":666},{"g":14,"u":407,"v":590},
{"g":15,"u":125,"v":860},{"g":15,"u":136,"v":823},{"g":15,"u":158,"v":772},{"g":15,"u":190,"v":722},{"g":15,"u":256,"v":663},{"g":15,"u":397,"v":587},
{"g":16,"u":114,"v":855},{"g":16,"u":125,"v":820},{"g":16,"u":147,"v":771},{"g":16,"u":179,"v":721},{"g":16,"u":245,"v":661},{"g":16,"u":386,"v":583},
{"g":17,"u":98,"v":847},{"g":17,"u":109,"v":815},{"g":17,"u":131,"v":767},{"g":17,"u":163,"v":718},{"g":17,"u":229,"v":658},{"g":17,"u":370,"v":578},
{"g":21,"u":288,"v":930},{"g":21,"u":283,"v":872},{"g":21,"u":272,"v":847},{"g":21,"u":256,"v":831},{"g":21,"u":225,"v":836},{"g":21,"u":172,"v":832},{"g":21,"u":109,"v":815},
{"g":22,"u":299,"v":927},{"g":22,"u":294,"v":858},{"g":22,"u":283,"v":824},{"g":22,"u":268,"v":800},{"g":22,"u":236,"v":799},{"g":22,"u":184,"v":800},{"g":22,"u":120,"v":789},
{"g":23,"u":310,"v":924},{"g":23,"u":305,"v":850},{"g":23,"u":294,"v":812},{"g":23,"u":279,"v":782},{"g":23,"u":247,"v":775},{"g":23,"u":195,"v":775},{"g":23,"u":131,"v":767},
{"g":24,"u":321,"v":921},{"g":24,"u":316,"v":844},{"g":24,"u":305,"v":804},{"g":24,"u":289,"v":770},{"g":24,"u":258,"v":757},{"g":24,"u":205,"v":756},{"g":24,"u":142,"v":749},
{"g":25,"u":331,"v":917},{"g":25,"u":326,"v":839},{"g":25,"u":315,"v":797},{"g":25,"u":300,"v":761},{"g":25,"u":268,"v":743},{"g":25,"u":216,"v":739},{"g":25,"u":152,"v":732},
{"g":26,"u":342,"v":914},{"g":26,"u":337,"v":834},{"g":26,"u":326,"v":791},{"g":26,"u":311,"v":754},{"g":26,"u":279,"v":732},{"g":26,"u":227,"v":725},{"g":26,"u":163,"v":718},
{"g":27,"u":353,"v":911},{"g":27,"u":348,"v":830},{"g":27,"u":337,"v":786},{"g":27,"u":322,"v":748},{"g":27,"u":290,"v":723},{"g":27,"u":238,"v":713},{"g":27,"u":174,"v":705},
{"g":28,"u":364,"v":908},{"g":28,"u":359,"v":826},{"g":28,"u":348,"v":782},{"g":28,"u":333,"v":742},{"g":28,"u":301,"v":715},{"g":28,"u":249,"v":703},{"g":28,"u":185,"v":694},
{"g":29,"u":375,"v":905},{"g":29,"u":370,"v":823},{"g":29,"u":359,"v":778},{"g":29,"u":344,"v":737},{"g":29,"u":312,"v":707},{"g":29,"u":260,"v":693},{"g":29,"u":196,"v":684},
{"g":30,"u":386,"v":902},{"g":30,"u":381,"v":820},{"g":30,"u":370,"v":774},{"g":30,"u":355,"v":733},{"g":30,"u":323,"v":701},{"g":30,"u":271,"v":685},{"g":30,"u":207,"v":675},
{"g":31,"u":397,"v":899},{"g":31,"u":392,"v":816},{"g":31,"u":381,"v":770},{"g":31,"u":366,"v":728},{"g":31,"u":334,"v":694},{"g":31,"u":282,"v":678},{"g":31,"u":218,"v":666},
{"g":32,"u":408,"v":896},{"g":32,"u":403,"v":813},{"g":32,"u":392,"v":767},{"g":32,"u":377,"v":724},{"g":32,"u":345,"v":689},{"g":32,"u":293,"v":671},{"g":32,"u":229,"v":658},
{"g":33,"u":418,"v":892},{"g":33,"u":413,"v":809},{"g":33,"u":402,"v":763},{"g":33,"u":387,"v":719},{"g":33,"u":355,"v":683},{"g":33,"u":303,"v":662},{"g":33,"u":239,"v":648},
{"g":34,"u":429,"v":889},{"g":34,"u":424,"v":806},{"g":34,"u":413,"v":760},{"g":34,"u":398,"v":716},{"g":34,"u":366,"v":677},{"g":34,"u":314,"v":656},{"g":34,"u":250,"v":642},
{"g":35,"u":440,"v":886},{"g":35,"u":435,"v":803},{"g":35,"u":424,"v":756},{"g":35,"u":409,"v":712},{"g":35,"u":377,"v":673},{"g":35,"u":325,"v":651},{"g":35,"u":261,"v":635},
{"g":36,"u":451,"v":883},{"g":36,"u":446,"v":800},{"g":36,"u":435,"v":752},{"g":36,"u":420,"v":708},{"g":36,"u":388,"v":669},{"g":36,"u":336,"v":644},{"g":36,"u":272,"v":629},
{"g":37,"u":462,"v":880},{"g":37,"u":457,"v":797},{"g":37,"u":446,"v":749},{"g":37,"u":431,"v":705},{"g":37,"u":399,"v":665},{"g":37,"u":347,"v":639},{"g":37,"u":283,"v":623},
{"g":38,"u":473,"v":877},{"g":38,"u":468,"v":794},{"g":38,"u":457,"v":745},{"g":38,"u":442,"v":701},{"g":38,"u":410,"v":660},{"g":38,"u":358,"v":634},{"g":38,"u":294,"v":616},
{"g":39,"u":484,"v":874},{"g":39,"u":479,"v":790},{"g":39,"u":468,"v":742},{"g":39,"u":453,"v":698},{"g":39,"u":421,"v":654},{"g":39,"u":369,"v":629},{"g":39,"u":305,"v":610},
{"g":40,"u":495,"v":871},{"g":40,"u":490,"v":787},{"g":40,"u":479,"v":739},{"g":40,"u":464,"v":694},{"g":40,"u":432,"v":649},{"g":40,"u":380,"v":624},{"g":40,"u":316,"v":605},
{"g":41,"u":506,"v":868},{"g":41,"u":501,"v":783},{"g":41,"u":490,"v":736},{"g":41,"u":474,"v":690},{"g":41,"u":443,"v":643},{"g":41,"u":390,"v":619},{"g":41,"u":327,"v":598},
{"g":42,"u":516,"v":864},{"g":42,"u":511,"v":780},{"g":42,"u":500,"v":733},{"g":42,"u":485,"v":687},{"g":42,"u":453,"v":639},{"g":42,"u":401,"v":613},{"g":42,"u":337,"v":594},
{"g":43,"u":527,"v":861},{"g":43,"u":522,"v":777},{"g":43,"u":511,"v":730},{"g":43,"u":496,"v":683},{"g":43,"u":464,"v":634},{"g":43,"u":412,"v":609},{"g":43,"u":348,"v":589},
{"g":44,"u":538,"v":858},{"g":44,"u":533,"v":774},{"g":44,"u":522,"v":726},{"g":44,"u":507,"v":680},{"g":44,"u":475,"v":629},{"g":44,"u":423,"v":605},{"g":44,"u":359,"v":584},
{"g":45,"u":549,"v":855},{"g":45,"u":544,"v":770},{"g":45,"u":536,"v":723},{"g":45,"u":521,"v":675},{"g":45,"u":486,"v":625},{"g":45,"u":434,"v":599},{"g":45,"u":370,"v":578}]}},
{"mark":{"type":"line","stroke":"#5a5a5a","strokeWidth":1,"clip":false},"encoding":{"detail":{"field":"g","type":"nominal"},"order":{"value":null}},"data":{"values":[
{"g":0,"u":67,"v":614},{"g":0,"u":67,"v":832},{"g":0,"u":277,"v":933},{"g":0,"u":549,"v":855},
{"g":1,"u":59,"v":611},{"g":1,"u":67,"v":614},{"g":2,"u":59,"v":638},{"g":2,"u":67,"v":641},{"g":3,"u":59,"v":665},{"g":3,"u":67,"v":668},{"g":4,"u":59,"v":693},{"g":4,"u":67,"v":696},{"g":5,"u":59,"v":720},{"g":5,"u":67,"v":723},{"g":6,"u":59,"v":747},{"g":6,"u":67,"v":750},{"g":7,"u":59,"v":774},{"g":7,"u":67,"v":777},{"g":8,"u":59,"v":802},{"g":8,"u":67,"v":805},{"g":20,"u":59,"v":829},{"g":20,"u":67,"v":832},
{"g":9,"u":67,"v":832},{"g":9,"u":61,"v":835},{"g":10,"u":119,"v":856},{"g":10,"u":113,"v":860},{"g":11,"u":171,"v":882},{"g":11,"u":164,"v":885},{"g":12,"u":222,"v":906},{"g":12,"u":217,"v":909},{"g":13,"u":277,"v":933},{"g":13,"u":271,"v":936},
{"g":14,"u":277,"v":933},{"g":14,"u":283,"v":936},{"g":15,"u":331,"v":917},{"g":15,"u":336,"v":920},{"g":16,"u":385,"v":901},{"g":16,"u":391,"v":905},{"g":17,"u":439,"v":886},{"g":17,"u":446,"v":890},{"g":18,"u":495,"v":870},{"g":18,"u":501,"v":874},{"g":19,"u":549,"v":855},{"g":19,"u":555,"v":859}]}},
{"mark":{"type":"text","font":"Liberation Sans","fontSize":12,"fill":"#333333","align":"center","baseline":"middle","clip":false},"encoding":{"text":{"field":"t"}},"data":{"values":[
{"t":"0.8","u":47,"v":609},{"t":"0.7","u":47,"v":637},{"t":"0.6","u":47,"v":664},{"t":"0.5","u":47,"v":692},{"t":"0.4","u":47,"v":718},{"t":"0.3","u":47,"v":746},{"t":"0.2","u":47,"v":773},{"t":"0.1","u":47,"v":800},{"t":"0","u":52,"v":827},
{"t":"0.04","u":43,"v":844},{"t":"0.03","u":96,"v":869},{"t":"0.02","u":148,"v":893},{"t":"0.01","u":200,"v":918},{"t":"0","u":262,"v":943},
{"t":"0","u":290,"v":944},{"t":"100","u":352,"v":930},{"t":"200","u":406,"v":914},{"t":"300","u":461,"v":899},{"t":"400","u":515,"v":884},{"t":"500","u":570,"v":869}]}},
{"mark":{"type":"text","font":"Liberation Sans","fontSize":16,"fill":"#222222","angle":270,"align":"center","baseline":"middle","clip":false},"encoding":{"text":{"field":"t"}},"data":{"values":[{"t":"Efficiency","u":22,"v":704}]}},
{"mark":{"type":"text","font":"Liberation Sans","fontSize":16,"fill":"#222222","angle":24,"align":"center","baseline":"middle","clip":false},"encoding":{"text":{"field":"t"}},"data":{"values":[{"t":"Torque of The Motor Tₘ [Nm]","u":98,"v":910}]}},
{"mark":{"type":"text","font":"Liberation Sans","fontSize":16,"fill":"#222222","angle":341,"align":"center","baseline":"middle","clip":false},"encoding":{"text":{"field":"t"}},"data":{"values":[{"t":"Speed of The Motor ωₘ [rad/s]","u":466,"v":925}]}},
{"mark":{"type":"text","font":"Liberation Serif","fontSize":15,"fontWeight":"bold","fill":"#111111","align":"center","baseline":"middle","clip":false},"encoding":{"text":{"field":"t"}},"data":{"values":[{"t":"b","u":284,"v":984}]}}]}
]}
